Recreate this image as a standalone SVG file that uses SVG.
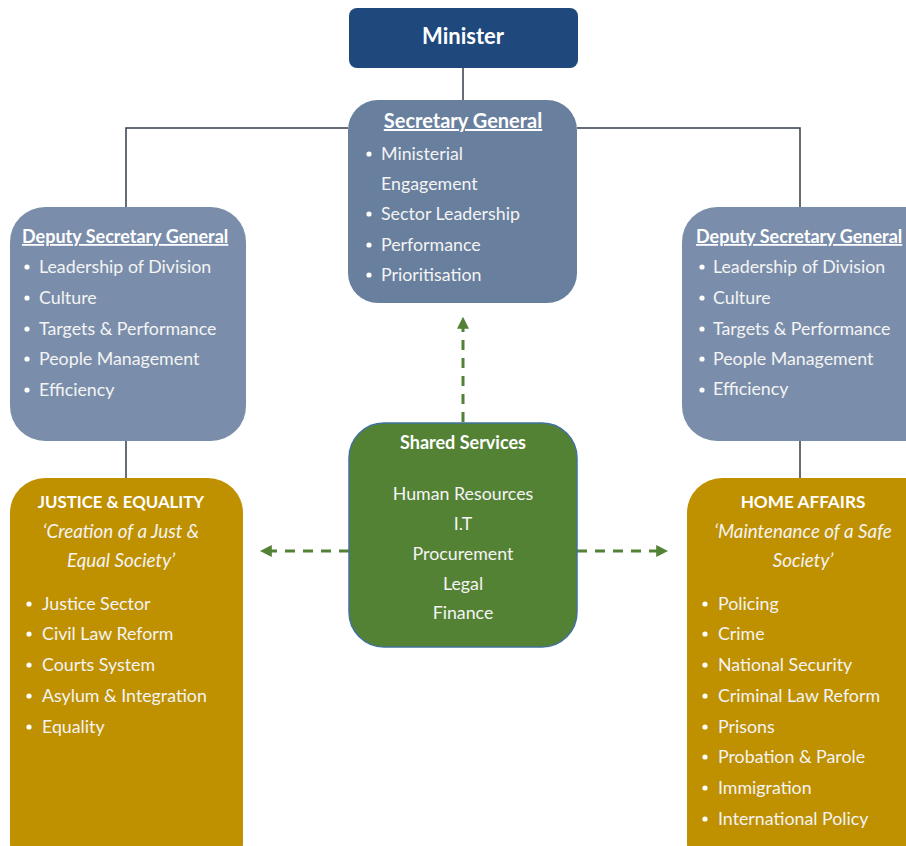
<svg xmlns="http://www.w3.org/2000/svg" width="906" height="846" viewBox="0 0 906 846">
  <style>
    text { font-family: Lato, "Open Sans", "Noto Sans", sans-serif; fill: #f4f4f4; font-size: 17.8px; }
    .title { font-weight: bold; fill: #ffffff; }
    .u { text-decoration: underline; }
    .it { font-style: italic; font-size: 18.8px; }
    .mid { text-anchor: middle; }
    .tree { stroke: #333c4a; stroke-width: 1.5; fill: none; }
    .dash { stroke: #538135; stroke-width: 3; stroke-dasharray: 10 8; fill: none; }
    .bul { fill: #ffffff; }
  </style>
  <defs>
    <marker id="arr" viewBox="0 0 10 10" refX="9" refY="5" markerWidth="4" markerHeight="4" orient="auto" markerUnits="strokeWidth">
      <path d="M0,0 L10,5 L0,10 Z" fill="#538135"/>
    </marker>
  </defs>

  <rect width="906" height="846" fill="#ffffff"/>

  <!-- connectors -->
  <g id="connectors">
    <path class="tree" d="M463,68 V100"/>
    <path class="tree" d="M348,128 H126 V208"/>
    <path class="tree" d="M577,128 H800 V208"/>
    <path class="tree" d="M126,441 V478"/>
    <path class="tree" d="M800,441 V478"/>
    <path class="dash" d="M463,422 V318" marker-end="url(#arr)"/>
    <path class="dash" d="M349,551 H261" marker-end="url(#arr)"/>
    <path class="dash" d="M577,551 H667" marker-end="url(#arr)"/>
  </g>

  <!-- Minister -->
  <g id="minister">
    <rect x="349" y="8" width="229" height="60" rx="8" fill="#1f497d"/>
    <text class="title mid" x="463" y="44" style="font-size:22px">Minister</text>
  </g>

  <!-- Secretary General -->
  <g id="secretary-general">
    <rect x="348" y="100" width="229" height="203" rx="30" fill="#687f9e"/>
    <text class="title u mid" x="463" y="128" style="font-size:20px">Secretary General</text>
    <circle class="bul" cx="369" cy="154" r="2.6"/>
    <text x="381" y="160">Ministerial</text>
    <text x="381" y="190">Engagement</text>
    <circle class="bul" cx="369" cy="214" r="2.6"/>
    <text x="381" y="220">Sector Leadership</text>
    <circle class="bul" cx="369" cy="245" r="2.6"/>
    <text x="381" y="251">Performance</text>
    <circle class="bul" cx="369" cy="275" r="2.6"/>
    <text x="381" y="281">Prioritisation</text>
  </g>

  <!-- Deputy Secretary General (left) -->
  <g id="dsg-left">
    <rect x="10" y="207" width="236" height="234" rx="35" fill="#7a8eab"/>
    <text class="title u" x="22" y="243" style="font-size:18px">Deputy Secretary General</text>
    <circle class="bul" cx="27" cy="267" r="2.6"/>
    <text x="39" y="273">Leadership of Division</text>
    <circle class="bul" cx="27" cy="298" r="2.6"/>
    <text x="39" y="304">Culture</text>
    <circle class="bul" cx="27" cy="329" r="2.6"/>
    <text x="39" y="335">Targets &amp; Performance</text>
    <circle class="bul" cx="27" cy="359" r="2.6"/>
    <text x="39" y="365">People Management</text>
    <circle class="bul" cx="27" cy="390" r="2.6"/>
    <text x="39" y="396">Efficiency</text>
  </g>

  <!-- Deputy Secretary General (right) -->
  <g id="dsg-right">
    <rect x="682" y="207" width="262" height="234" rx="35" fill="#7a8eab"/>
    <text class="title u" x="696" y="243" style="font-size:18px">Deputy Secretary General</text>
    <circle class="bul" cx="702" cy="267" r="2.6"/>
    <text x="713" y="273">Leadership of Division</text>
    <circle class="bul" cx="702" cy="298" r="2.6"/>
    <text x="713" y="304">Culture</text>
    <circle class="bul" cx="702" cy="329" r="2.6"/>
    <text x="713" y="335">Targets &amp; Performance</text>
    <circle class="bul" cx="702" cy="359" r="2.6"/>
    <text x="713" y="365">People Management</text>
    <circle class="bul" cx="702" cy="390" r="2.6"/>
    <text x="713" y="395">Efficiency</text>
  </g>

  <!-- Shared Services -->
  <g id="shared-services">
    <rect x="349" y="423" width="228" height="224" rx="35" fill="#548235" stroke="#41719c" stroke-width="1.5"/>
    <text class="title mid" x="463" y="449" style="font-size:18px">Shared Services</text>
    <text class="mid" x="463" y="500">Human Resources</text>
    <text class="mid" x="463" y="530">I.T</text>
    <text class="mid" x="463" y="560">Procurement</text>
    <text class="mid" x="463" y="590">Legal</text>
    <text class="mid" x="463" y="619">Finance</text>
  </g>

  <!-- Justice & Equality -->
  <g id="justice-equality">
    <rect x="10" y="478" width="233" height="400" rx="35" fill="#bf9000"/>
    <text class="title mid" x="121" y="508" style="font-size:16.8px">JUSTICE &amp; EQUALITY</text>
    <text class="it mid" x="121" y="538">‘Creation of a Just &amp;</text>
    <text class="it mid" x="121" y="567">Equal Society’</text>
    <circle class="bul" cx="29" cy="604" r="2.6"/>
    <text x="42" y="610">Justice Sector</text>
    <circle class="bul" cx="29" cy="634" r="2.6"/>
    <text x="42" y="640">Civil Law Reform</text>
    <circle class="bul" cx="29" cy="665" r="2.6"/>
    <text x="42" y="671">Courts System</text>
    <circle class="bul" cx="29" cy="696" r="2.6"/>
    <text x="42" y="702">Asylum &amp; Integration</text>
    <circle class="bul" cx="29" cy="727" r="2.6"/>
    <text x="42" y="733">Equality</text>
  </g>

  <!-- Home Affairs -->
  <g id="home-affairs">
    <rect x="687" y="478" width="255" height="400" rx="35" fill="#bf9000"/>
    <text class="title mid" x="803" y="508" style="font-size:17.2px">HOME AFFAIRS</text>
    <text class="it mid" x="803" y="538">‘Maintenance of a Safe</text>
    <text class="it mid" x="803" y="567">Society’</text>
    <circle class="bul" cx="705" cy="604" r="2.6"/>
    <text x="718" y="610">Policing</text>
    <circle class="bul" cx="705" cy="634" r="2.6"/>
    <text x="718" y="640">Crime</text>
    <circle class="bul" cx="705" cy="665" r="2.6"/>
    <text x="718" y="671">National Security</text>
    <circle class="bul" cx="705" cy="696" r="2.6"/>
    <text x="718" y="702">Criminal Law Reform</text>
    <circle class="bul" cx="705" cy="727" r="2.6"/>
    <text x="718" y="733">Prisons</text>
    <circle class="bul" cx="705" cy="757" r="2.6"/>
    <text x="718" y="763">Probation &amp; Parole</text>
    <circle class="bul" cx="705" cy="788" r="2.6"/>
    <text x="718" y="794">Immigration</text>
    <circle class="bul" cx="705" cy="819" r="2.6"/>
    <text x="718" y="825">International Policy</text>
  </g>
</svg>
